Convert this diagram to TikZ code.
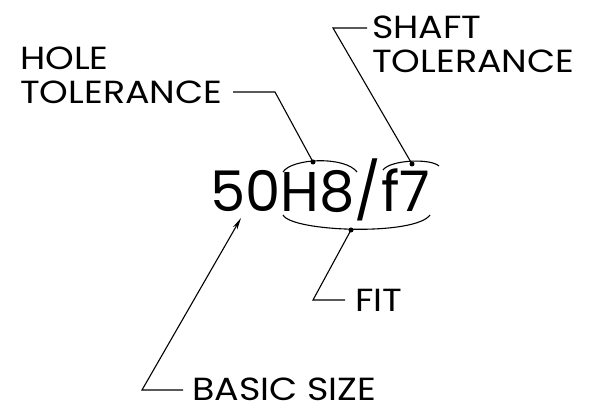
\documentclass[tikz,border=0pt]{standalone}
\usepackage{fontspec}
\setmainfont{Poppins}
\newfontfamily\lblfont{Poppins}[FakeStretch=1.14]
\usetikzlibrary{arrows.meta}
\begin{document}
\begin{tikzpicture}[x=1pt,y=-1pt,
  lbl/.style={inner sep=0pt,font=\lblfont\fontsize{32}{34}\selectfont,align=left},
  leader/.style={line width=1.1pt,black},
  dotmark/.style={fill=black,circle,inner sep=0pt,minimum size=5pt}]
\useasboundingbox (0,0) rectangle (597,411);
% labels
\node[lbl,anchor=base west] (hole) at (20,104) {HOLE\\TOLERANCE};
\node[lbl,anchor=base west] (shaft) at (372,73) {SHAFT\\TOLERANCE};
\node[lbl,anchor=base west] (fit) at (355,312) {FIT};
\node[lbl,anchor=base west] (basic) at (192,401) {BASIC SIZE};
\node[inner sep=0pt,anchor=base west,font=\fontsize{56}{60}\selectfont] (main) at (210,212) {50H8/f7};
% dots
\node[dotmark] (hd) at (313,162) {};
\node[dotmark] (sd) at (412,164) {};
\node[dotmark] (fd) at (351,230) {};
\coordinate (bt) at (241,218);
% arcs
\draw[leader] (283,172) .. controls (292,158) and (345,156) .. (357,172);
\draw[leader] (383,170) .. controls (390,160) and (430,158) .. (439,166);
\draw[leader] (283,215) .. controls (292,232) and (415,236) .. (430,215);
% leaders
\coordinate (he) at (275,92);
\coordinate (hs) at (233,92);
\draw[leader] (hs) -- (he) -- (hd.center);
\coordinate (se) at (333,28);
\coordinate (ss) at (367,28);
\draw[leader] (ss) -- (se) -- (sd.center);
\coordinate (fe) at (313,300);
\coordinate (fs) at (345,300);
\draw[leader] (fd.center) -- (fe) -- (fs);
\coordinate (be) at (142,390);
\coordinate (bs) at (183,390);
\draw[leader,-{Stealth[length=12pt,width=5pt]}] (bs) -- (be) -- (bt);
\end{tikzpicture}
\end{document}
